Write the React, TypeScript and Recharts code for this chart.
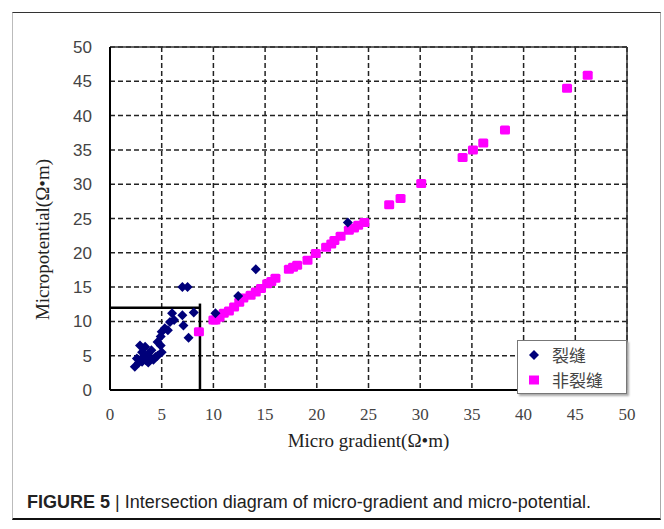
import React from 'react';
import { ScatterChart, Scatter, XAxis, YAxis, CartesianGrid, ReferenceLine, Legend, Label } from 'recharts';

// 裂缝 (fracture) points: micro gradient / micropotential
const crackGradient = [
  7.0, 7.5, 8.1, 6.0, 7.0, 6.2, 7.1, 5.8, 7.6, 5.3, 5.0, 5.6, 4.9, 4.6, 4.9, 5.0,
  2.9, 3.4, 3.1, 3.7, 2.6, 3.2, 3.9, 2.4, 3.1, 3.7, 4.4, 4.2, 4.0, 2.8, 3.5, 4.6,
  10.2, 12.4, 14.1, 23.0,
];
const crackPotential = [
  15.0, 15.0, 11.3, 11.2, 10.9, 10.2, 9.4, 9.9, 7.6, 9.0, 8.5, 8.7, 7.8, 7.0, 6.5, 5.5,
  6.5, 6.3, 5.5, 5.3, 4.6, 4.8, 4.6, 3.4, 4.1, 4.0, 4.8, 4.4, 5.8, 4.0, 4.3, 5.0,
  11.2, 13.7, 17.6, 24.4,
];

// 非裂缝 (non-fracture) points
const nonCrackGradient = [
  8.6, 10.0, 10.2, 10.6, 11.0, 11.5, 12.0, 12.5, 12.9, 13.6, 14.1, 14.6, 15.2, 15.6, 16.0,
  17.3, 17.7, 18.1, 19.1, 19.9, 20.9, 21.4, 21.7, 22.3, 23.1, 23.6, 24.0, 24.6,
  27.0, 28.1, 30.1, 34.1, 35.1, 36.1, 38.2, 44.2, 46.2,
];
const nonCrackPotential = [
  8.5, 10.2, 10.2, 10.6, 11.2, 11.5, 12.1, 12.8, 13.4, 13.8, 14.3, 14.8, 15.5, 15.8, 16.3,
  17.6, 17.9, 18.2, 18.9, 19.9, 20.8, 21.3, 21.8, 22.4, 23.3, 23.6, 24.0, 24.4,
  27.0, 27.9, 30.1, 33.9, 35.0, 36.0, 37.9, 44.0, 45.9,
];

const axisTicks = [0, 5, 10, 15, 20, 25, 30, 35, 40, 45, 50];

const crackData = crackGradient.map((x, i) => ({ x, y: crackPotential[i] }));
const nonCrackData = nonCrackGradient.map((x, i) => ({ x, y: nonCrackPotential[i] }));

const NAVY = '#00007a';
const MAGENTA = '#ff00ff';

const Diamond = (props: any) => {
  const { cx, cy } = props;
  return <polygon points={`${cx},${cy - 5} ${cx + 5},${cy} ${cx},${cy + 5} ${cx - 5},${cy}`} fill={NAVY} />;
};

const Square = (props: any) => {
  const { cx, cy } = props;
  return <rect x={cx - 5} y={cy - 4.5} width={10} height={9} rx={1.5} fill={MAGENTA} />;
};

const XTitle = ({ viewBox }: any) => (
  <text
    x={viewBox.x + viewBox.width / 2}
    y={viewBox.y + 57}
    textAnchor="middle"
    fontFamily="'Liberation Serif', serif"
    fontSize={19}
    fill="#222"
  >
    Micro gradient(Ω•m)
  </text>
);

const YTitle = ({ viewBox }: any) => {
  const cx = viewBox.x - 8;
  const cy = viewBox.y + viewBox.height / 2 + 21;
  return (
    <text
      x={cx}
      y={cy}
      transform={`rotate(-90, ${cx}, ${cy})`}
      textAnchor="middle"
      dominantBaseline="central"
      fontFamily="'Liberation Serif', serif"
      fontSize={19}
      fill="#222"
    >
      Micropotential(Ω•m)
    </text>
  );
};

const LegendBox = () => (
  <div
    style={{
      width: 110,
      height: 54,
      boxSizing: 'border-box',
      background: '#fff',
      border: '1px solid #777',
      boxShadow: '2px 2px 2px #aaa',
      fontFamily: "'Noto Sans CJK SC', sans-serif",
      fontSize: 17,
      color: '#444',
      padding: '1px 0 0 10px',
    }}
  >
    <div style={{ display: 'flex', alignItems: 'center', height: 25, lineHeight: '25px' }}>
      <svg width={12} height={12} style={{ marginRight: 12 }}>
        <polygon points="6,1 11,6 6,11 1,6" fill={NAVY} />
      </svg>
      裂缝
    </div>
    <div style={{ display: 'flex', alignItems: 'center', height: 25, lineHeight: '25px' }}>
      <svg width={12} height={12} style={{ marginRight: 12 }}>
        <rect x={1} y={1.5} width={10} height={9} fill={MAGENTA} />
      </svg>
      非裂缝
    </div>
  </div>
);

export default function App() {
  return (
    <div style={{ position: 'absolute', left: 0, top: 0, width: 664, height: 529, background: '#fff' }}>
      <div
        style={{
          position: 'absolute',
          left: 12,
          top: 12,
          width: 649,
          height: 508,
          boxSizing: 'border-box',
          borderTop: '1px solid #333',
          borderLeft: '1px solid #bbb',
          borderRight: '1px solid #aaa',
          borderBottom: '2px solid #111',
        }}
      />
      <div style={{ position: 'absolute', left: 0, top: 0 }}>
        <ScatterChart width={664} height={460} margin={{ top: 47, right: 37, left: 50, bottom: 20 }}>
          <CartesianGrid stroke="#222" strokeWidth={1.5} strokeDasharray="5 3" />
          <XAxis
            type="number"
            dataKey="x"
            domain={[0, 50]}
            ticks={axisTicks}
            interval={0}
            height={50}
            tickSize={0}
            tickMargin={18}
            axisLine={{ stroke: '#000', strokeWidth: 2 }}
            tick={{ fill: '#444', fontSize: 17, fontFamily: "'Liberation Serif', serif" }}
          >
            <Label content={<XTitle />} />
          </XAxis>
          <YAxis
            type="number"
            dataKey="y"
            domain={[0, 50]}
            ticks={axisTicks}
            interval={0}
            width={60}
            tickSize={0}
            tickMargin={18}
            axisLine={{ stroke: '#000', strokeWidth: 2 }}
            tick={{ fill: '#444', fontSize: 17, fontFamily: "'Liberation Sans', sans-serif" }}
          >
            <Label content={<YTitle />} />
          </YAxis>
          <ReferenceLine y={50} stroke="#333" strokeWidth={1.5} />
          <ReferenceLine x={50} stroke="#333" strokeWidth={1.5} />
          <ReferenceLine segment={[{ x: 0, y: 12 }, { x: 8.7, y: 12 }]} stroke="#000" strokeWidth={2.5} />
          <ReferenceLine segment={[{ x: 8.7, y: 12.6 }, { x: 8.7, y: 0 }]} stroke="#000" strokeWidth={2.5} />
          <Scatter name="非裂缝" data={nonCrackData} fill={MAGENTA} shape={<Square />} isAnimationActive={false} />
          <Scatter name="裂缝" data={crackData} fill={NAVY} shape={<Diamond />} isAnimationActive={false} />
          <Legend
            layout="vertical"
            align="center"
            verticalAlign="middle"
            content={<LegendBox />}
            wrapperStyle={{ left: 517, top: 340, width: 110 }}
          />
        </ScatterChart>
      </div>
      <div
        style={{
          position: 'absolute',
          left: 27,
          top: 491,
          fontFamily: "'Liberation Sans', Arial, sans-serif",
          fontSize: 18,
          lineHeight: '22px',
          color: '#222',
          whiteSpace: 'nowrap',
        }}
      >
        <span style={{ fontWeight: 'bold' }}>FIGURE 5</span> | Intersection diagram of micro-gradient and micro-potential.
      </div>
    </div>
  );
}
